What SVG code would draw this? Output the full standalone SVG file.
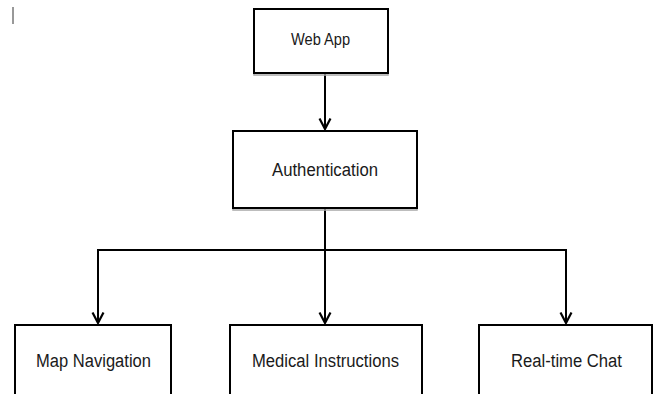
<svg xmlns="http://www.w3.org/2000/svg" width="656" height="394" viewBox="0 0 656 394">
  <style>
    .box { fill: #ffffff; stroke: #000000; stroke-width: 2; }
    .shadow { fill: none; stroke: #a8a8a8; stroke-width: 1.5; }
    .lbl { font-family: "Liberation Sans", Arial, sans-serif; fill: #1a1a1a; text-anchor: middle; }
    .conn { fill: none; stroke: #000000; stroke-width: 2; }
  </style>
  <defs>
    <marker id="arrow" markerUnits="userSpaceOnUse" markerWidth="14" markerHeight="14" refX="12" refY="7" orient="auto" viewBox="0 0 14 14">
      <path d="M1.5,1.5 L12,7 L1.5,12.5" fill="none" stroke="#000" stroke-width="2.2"/>
    </marker>
  </defs>
  <rect width="656" height="394" fill="#ffffff"/>
  <line x1="13" y1="7" x2="13" y2="24" stroke="#333" stroke-width="1"/>

  <g id="connectors">
    <path class="conn" d="M325,74 L325,129" marker-end="url(#arrow)"/>
    <path class="conn" d="M325,208 L325,323" marker-end="url(#arrow)"/>
    <path class="conn" d="M98,323 L98,250 L566,250 L566,323"/>
    <path class="conn" d="M98,250 L98,323" marker-end="url(#arrow)"/>
    <path class="conn" d="M566,250 L566,323" marker-end="url(#arrow)"/>
  </g>

  <g id="web-app">
    <rect class="shadow" x="254" y="11" width="134" height="64"/>
    <rect class="box" x="254" y="9" width="134" height="64"/>
    <text class="lbl" x="320.5" y="45" font-size="16" textLength="59" lengthAdjust="spacingAndGlyphs">Web App</text>
  </g>

  <g id="authentication">
    <rect class="shadow" x="233" y="133" width="184" height="77"/>
    <rect class="box" x="233" y="131" width="184" height="77"/>
    <text class="lbl" x="325" y="176" font-size="18" textLength="106" lengthAdjust="spacingAndGlyphs">Authentication</text>
  </g>

  <g id="map-navigation">
    <rect class="box" x="15" y="325" width="156" height="90"/>
    <text class="lbl" x="93.5" y="366.5" font-size="18" textLength="115" lengthAdjust="spacingAndGlyphs">Map Navigation</text>
  </g>

  <g id="medical-instructions">
    <rect class="box" x="230" y="325" width="192" height="90"/>
    <text class="lbl" x="325.5" y="366.5" font-size="18" textLength="147" lengthAdjust="spacingAndGlyphs">Medical Instructions</text>
  </g>

  <g id="real-time-chat">
    <rect class="box" x="479" y="325" width="173" height="90"/>
    <text class="lbl" x="566.5" y="366.5" font-size="18" textLength="111" lengthAdjust="spacingAndGlyphs">Real-time Chat</text>
  </g>
</svg>
